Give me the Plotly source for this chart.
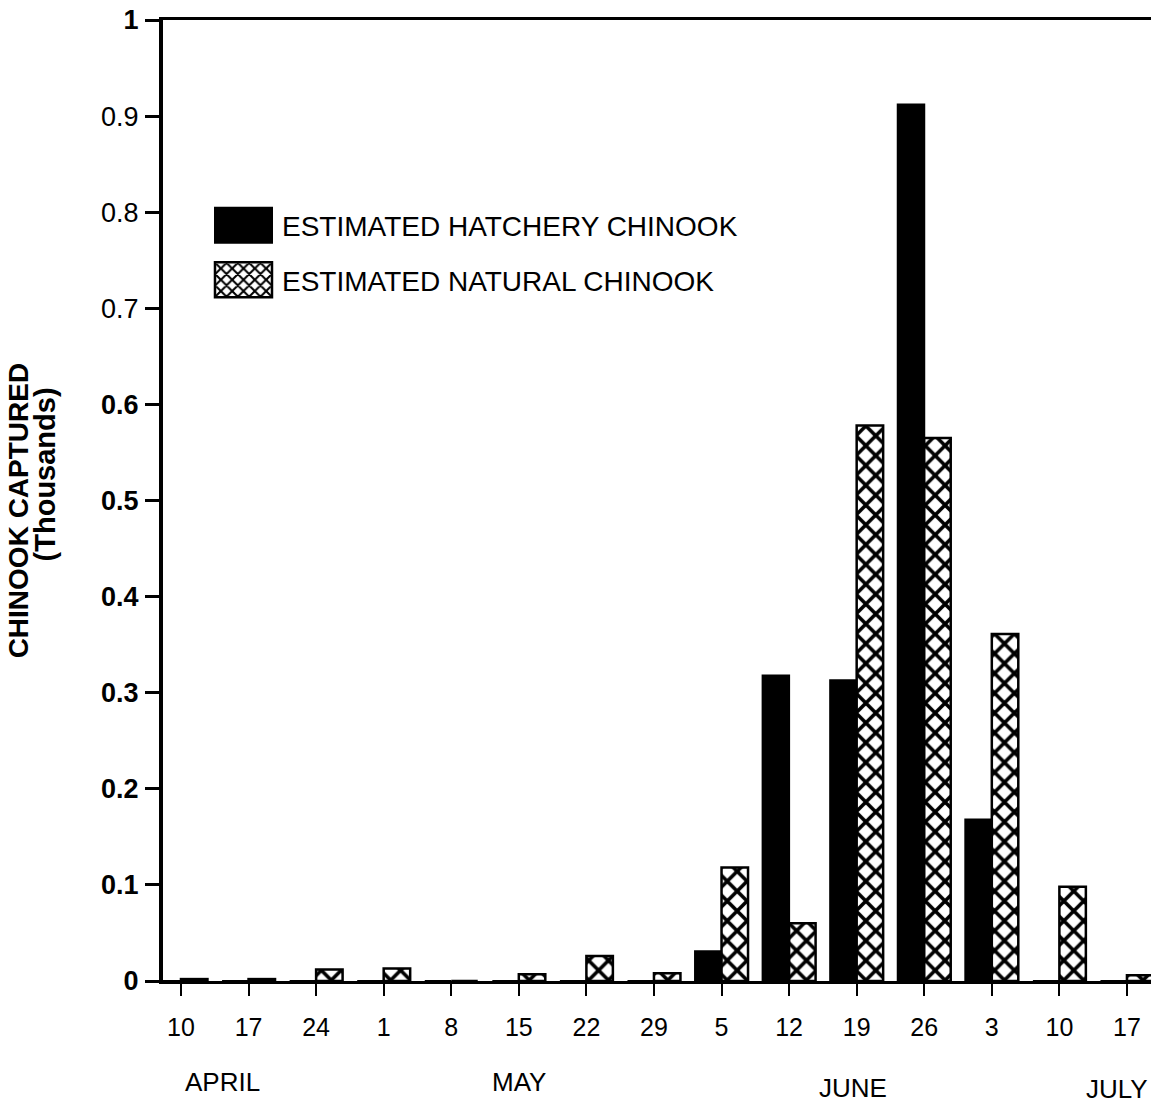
import plotly.graph_objects as go

# ---- data ----
weeks = ["Apr 10", "Apr 17", "Apr 24", "May 1", "May 8", "May 15", "May 22", "May 29",
         "Jun 5", "Jun 12", "Jun 19", "Jun 26", "Jul 3", "Jul 10", "Jul 17"]
day_labels = ["10", "17", "24", "1", "8", "15", "22", "29", "5", "12", "19", "26", "3", "10", "17"]
hatchery = [0, 0, 0, 0, 0, 0, 0, 0, 0.031, 0.318, 0.313, 0.912, 0.168, 0, 0]
natural = [0.002, 0.002, 0.012, 0.013, 0, 0.007, 0.026, 0.008, 0.118, 0.060, 0.578, 0.565, 0.361, 0.098, 0.006]
months = ["APRIL", "MAY", "JUNE", "JULY"]
month_at = [0.62, 5.0, 9.95, 13.85]
y_tickvals = [0, 0.1, 0.2, 0.3, 0.4, 0.5, 0.6, 0.7, 0.8, 0.9, 1.0]
y_ticktext = ["<b>0</b>", "<b>0.1</b>", "<b>0.2</b>", "<b>0.3</b>", "<b>0.4</b>", "<b>0.5</b>",
              "<b>0.6</b>", "0.7", "0.8", "0.9", "<b>1</b>"]
series_names = ["ESTIMATED HATCHERY CHINOOK", "ESTIMATED NATURAL CHINOOK"]
y_title_lines = ["CHINOOK CAPTURED", "(Thousands)"]

FONT = "Liberation Sans, Arial, Helvetica, sans-serif"

fig = go.Figure()
fig.add_trace(go.Bar(
    x=weeks, y=hatchery, name=series_names[0], legendgroup="a",
    marker=dict(color="black", line=dict(color="black", width=2)),
))
fig.add_trace(go.Bar(
    x=weeks, y=natural, name=series_names[1], legendgroup="b",
    marker=dict(color="white", line=dict(color="black", width=2.5),
                pattern=dict(shape="x", fgcolor="black", bgcolor="white",
                             size=14, solidity=0.45, fillmode="replace")),
))

annotations = []
month_dy = [0, 0, 6, 7]
for m, xp, dy in zip(months, month_at, month_dy):
    annotations.append(dict(
        x=xp, xref="x", y=-0.105 - dy / 961, yref="paper", text=m, showarrow=False,
        xanchor="center", yanchor="middle", font=dict(family=FONT, size=26, color="black")))
for line, xp, yp, fs in zip(y_title_lines, [-0.1465, -0.1190], [0.490, 0.5276], [28, 29]):
    annotations.append(dict(
        x=xp, xref="paper", y=yp, yref="paper", text="<b>" + line + "</b>",
        showarrow=False, textangle=-90, xanchor="center", yanchor="middle",
        font=dict(family=FONT, size=fs, color="black")))

fig.update_layout(
    width=1151, height=1105,
    margin=dict(l=163, r=0, t=20, b=124, autoexpand=False),
    paper_bgcolor="white", plot_bgcolor="white",
    barmode="group", bargap=0.216, bargroupgap=0,
    showlegend=True,
    legend=dict(x=0.0425, y=0.812, xanchor="left", yanchor="top",
                font=dict(family=FONT, size=28, color="black"),
                itemwidth=67, tracegroupgap=15, bgcolor="rgba(0,0,0,0)",
                traceorder="grouped"),
    annotations=annotations,
    font=dict(family=FONT, color="black"),
)
fig.update_xaxes(
    tickmode="array", tickvals=weeks, ticktext=day_labels,
    range=[-0.266, 14.356], automargin=False,
    showline=True, linecolor="black", linewidth=3, mirror=True,
    ticks="outside", ticklen=12, tickwidth=2, tickcolor="black",
    showgrid=False, zeroline=False, ticklabelstandoff=10,
    tickfont=dict(family=FONT, size=25, color="black"),
)
fig.update_yaxes(
    range=[0, 1], tickmode="array", tickvals=y_tickvals, ticktext=y_ticktext,
    automargin=False,
    showline=True, linecolor="black", linewidth=4,
    ticks="outside", ticklen=14, tickwidth=3, tickcolor="black",
    showgrid=False, zeroline=False, ticklabelstandoff=1,
    tickfont=dict(family=FONT, size=27, color="black"),
)

post = """
document.body.style.margin = '0';
document.body.style.padding = '0';
var gd = document.getElementById('{plot_id}');
function fixLegend(){
  gd.querySelectorAll('.legend .legendpoints path').forEach(function(p){
    p.setAttribute('d', 'M28.5,17.5H-28.5V-17.5H28.5Z');
  });
}
fixLegend();
gd.on('plotly_afterplot', fixLegend);
"""
fig.write_html("out.html", post_script=post, config={"displayModeBar": False})
